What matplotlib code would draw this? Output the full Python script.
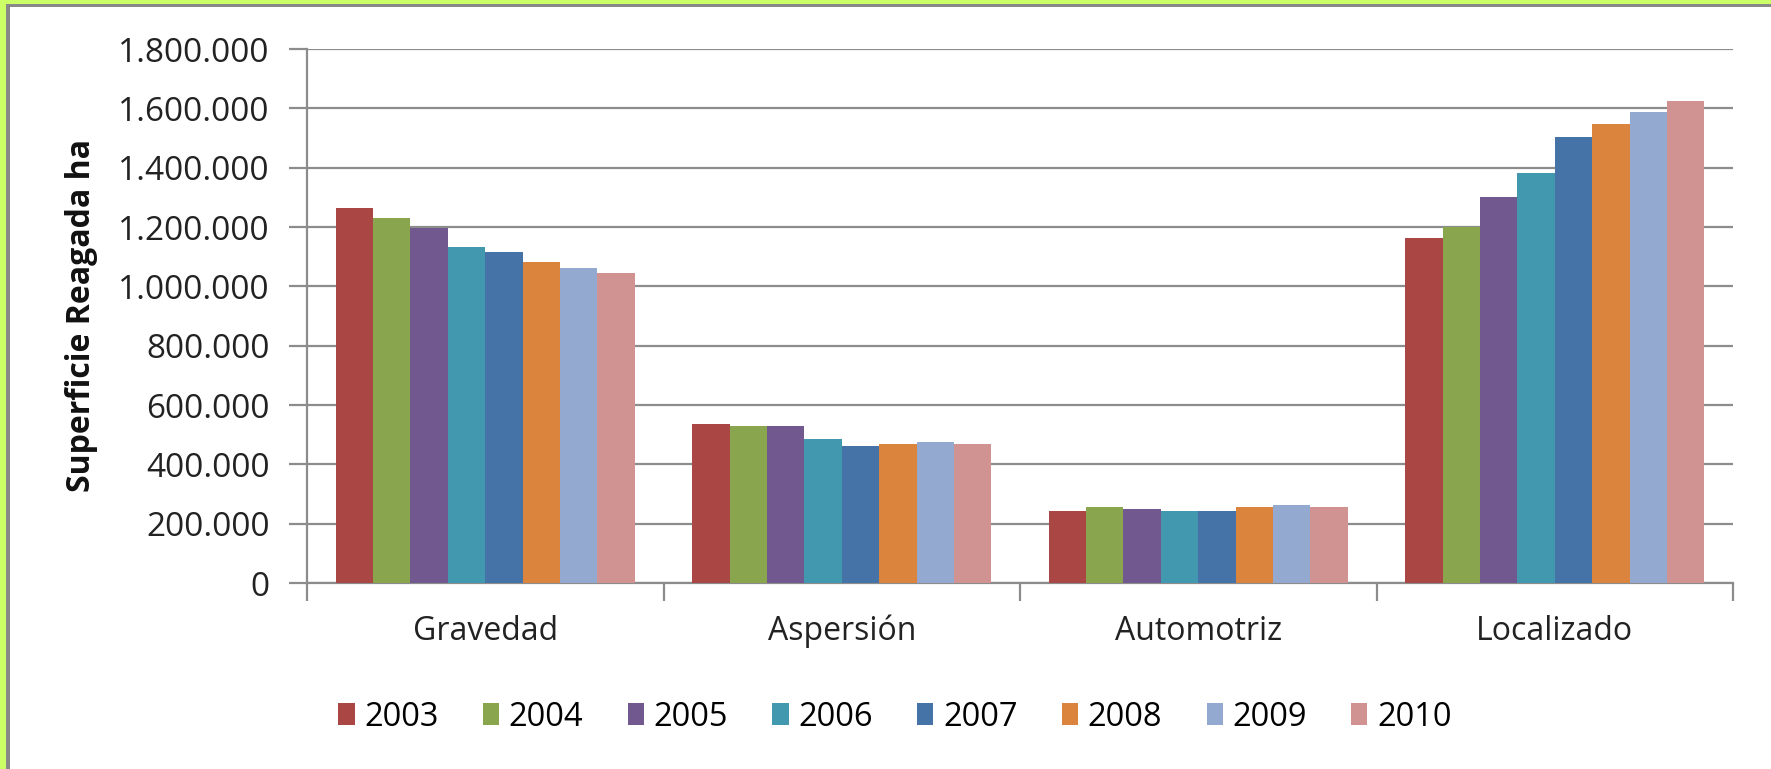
import numpy as np
import matplotlib.pyplot as plt
from matplotlib.patches import Rectangle

# data (hectares irrigated)
categories = ['Gravedad', 'Aspersión', 'Automotriz', 'Localizado']
years = ['2003', '2004', '2005', '2006', '2007', '2008', '2009', '2010']
v2003 = [1263000, 537000, 244000, 1164000]
v2004 = [1231000, 530000, 255000, 1200000]
v2005 = [1195000, 530000, 251000, 1301000]
v2006 = [1131000, 486000, 244000, 1382000]
v2007 = [1115000, 462000, 244000, 1502000]
v2008 = [1083000, 470000, 255000, 1546000]
v2009 = [1063000, 475000, 262000, 1589000]
v2010 = [1044000, 470000, 255000, 1626000]
series = [v2003, v2004, v2005, v2006, v2007, v2008, v2009, v2010]
colors = ['#AA4643', '#89A54E', '#71588F', '#4198AF',
          '#4572A7', '#DB843D', '#93A9CF', '#D19392']
y_ticks = [0, 200000, 400000, 600000, 800000, 1000000, 1200000, 1400000, 1600000, 1800000]

plt.rcParams['font.family'] = ['Open Sans', 'DejaVu Sans']

fig = plt.figure(figsize=(17.71, 7.69), dpi=100)

# left/top frame like the screenshot
fig.patches.append(Rectangle((0, 0), 1, 1, transform=fig.transFigure,
                             facecolor='#CCFF66', edgecolor='none', zorder=-3))
fig.patches.append(Rectangle((6 / 1771, -0.1), 1.2, (769 - 4) / 769 + 0.1,
                             transform=fig.transFigure, facecolor='#888888',
                             edgecolor='none', zorder=-2))
fig.patches.append(Rectangle((10 / 1771, -0.1), 1.2, (769 - 7) / 769 + 0.1,
                             transform=fig.transFigure, facecolor='white',
                             edgecolor='none', zorder=-1))

ax = fig.add_axes([307 / 1771, 1 - 583 / 769, (1733 - 307) / 1771, (583 - 49) / 769])
ax.set_facecolor('none')

x = np.arange(len(categories))
n = len(series)
width = 0.839 / n
for i in range(n):
    offset = (i - (n - 1) / 2) * width
    ax.bar(x + offset, series[i], width, color=colors[i], label=years[i], zorder=3)

ax.set_xlim(-0.5, len(categories) - 0.5)
ax.set_ylim(0, 1800000)
ax.set_yticks(y_ticks)
ax.set_yticklabels([f'{t:,}'.replace(',', '.') for t in y_ticks])
ax.grid(axis='y', color='#8C8C8C', linewidth=1.6, zorder=0)

ax.set_xticks(x)
ax.set_xticklabels(categories)
ax.set_xticks(np.arange(-0.5, len(categories)), minor=True)
ax.tick_params(axis='x', which='major', length=0, labelsize=23, pad=23, colors='#222222')
ax.tick_params(axis='x', which='minor', length=13, width=1.6, color='#8C8C8C')
ax.tick_params(axis='y', length=13, width=1.6, color='#8C8C8C', labelsize=24, pad=14,
               labelcolor='#222222')

for s in ['top', 'right']:
    ax.spines[s].set_visible(False)
for s in ['left', 'bottom']:
    ax.spines[s].set_color('#8C8C8C')
    ax.spines[s].set_linewidth(1.6)

fig.text(82 / 1771, 1 - 316 / 769, 'Superficie Reagada ha', rotation=90,
         ha='center', va='center', fontsize=23, fontweight='bold', color='#111111')

fig.legend(loc='center', bbox_to_anchor=(895 / 1771, 1 - 717 / 769), ncol=8,
           frameon=False, fontsize=23.5, handlelength=0.5, handleheight=0.65,
           handletextpad=0.3, columnspacing=1.35)

fig.savefig('out.png', dpi=100)
